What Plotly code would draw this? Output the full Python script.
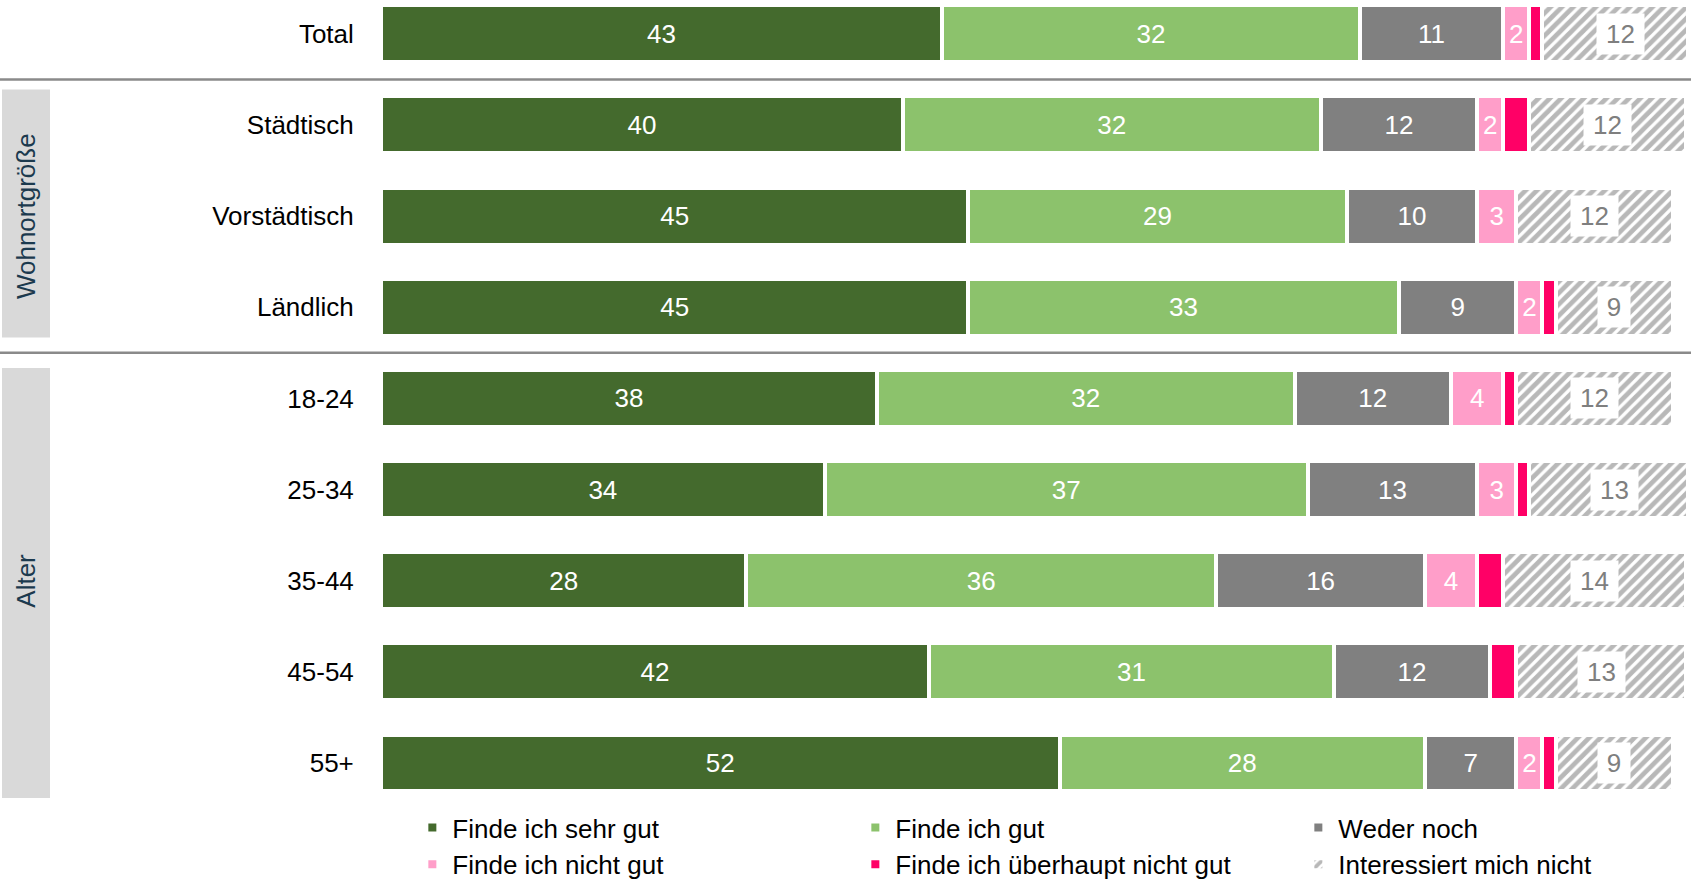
import plotly.graph_objects as go

# Survey rows (top to bottom) and answer shares in percent
categories = ["Total", "Städtisch", "Vorstädtisch", "Ländlich",
              "18-24", "25-34", "35-44", "45-54", "55+"]

series_names = ["Finde ich sehr gut", "Finde ich gut", "Weder noch",
                "Finde ich nicht gut", "Finde ich überhaupt nicht gut",
                "Interessiert mich nicht"]

sehr_gut = [43, 40, 45, 45, 38, 34, 28, 42, 52]
gut = [32, 32, 29, 33, 32, 37, 36, 31, 28]
weder_noch = [11, 12, 10, 9, 12, 13, 16, 12, 7]
nicht_gut = [2, 2, 3, 2, 4, 3, 4, 0, 2]
ueberhaupt_nicht_gut = [1, 2, 0, 1, 1, 1, 2, 2, 1]
kein_interesse = [12, 12, 12, 9, 12, 13, 14, 13, 9]

group_labels = ["Wohnortgröße", "Alter"]

series_values = [sehr_gut, gut, weder_noch, nicht_gut,
                 ueberhaupt_nicht_gut, kein_interesse]
colors = ["#446a2d", "#8cc26c", "#808080", "#ff9ec9", "#ff0066", "#ffffff"]
show_labels = [True, True, True, True, False, False]

FONT = "Liberation Sans, Arial, sans-serif"
BAR_W = 0.625

fig = go.Figure()

for name, vals, col, lab in zip(series_names, series_values, colors, show_labels):
    text = [str(v) if (lab and v) else "" for v in vals]
    marker = dict(color=col, line=dict(color="white", width=4))
    if name == "Interessiert mich nicht":
        marker["pattern"] = dict(shape="/", fgcolor="#727272", bgcolor="white",
                                 size=8, solidity=0.6)
    fig.add_trace(go.Bar(
        name=name, orientation="h", x=vals, y=categories, width=BAR_W,
        marker=marker, text=text, textposition="inside",
        insidetextanchor="middle", textangle=0, constraintext="none",
        textfont=dict(family=FONT, size=26, color="white"),
        hoverinfo="skip",
    ))

# Labels for the "not interested" segments on a white box
for i, cat in enumerate(categories):
    start = sum(s[i] for s in series_values[:-1])
    v = kein_interesse[i]
    fig.add_annotation(
        x=start + v / 2, y=cat, xref="x", yref="y", text=str(v),
        showarrow=False, bgcolor="white", borderpad=0,
        width=15 * len(str(v)) + 17, height=40,
        font=dict(family=FONT, size=26, color="#7f7f7f"),
    )

PLOT_L, PLOT_W = 381, 1305
PLOT_H = 800


def px_to_paper(px):
    return (px - PLOT_L) / PLOT_W


# Grey side panels for the row groups
for (y0, y1), label, yc in zip([(0.611, 3.333), (3.667, 8.384)], group_labels,
                               ["Vorstädtisch", "35-44"]):
    fig.add_shape(type="rect", xref="paper", yref="y",
                  x0=px_to_paper(2), x1=px_to_paper(50), y0=y0, y1=y1,
                  fillcolor="#d9d9d9", line=dict(width=0), layer="below")
    fig.add_annotation(x=px_to_paper(26), y=yc, xref="paper", yref="y",
                       xanchor="center", yanchor="middle",
                       text=label, textangle=-90, showarrow=False,
                       font=dict(family=FONT, size=26, color="#1c3a4e"))

# Separator lines between groups
for yl in [0.5, 3.5]:
    fig.add_shape(type="line", xref="paper", yref="y",
                  x0=px_to_paper(0), x1=px_to_paper(1691), y0=yl, y1=yl,
                  line=dict(color="#8a8a8a", width=2.5))

fig.update_layout(
    width=1691, height=880,
    margin=dict(l=PLOT_L, r=1691 - PLOT_L - PLOT_W, t=0, b=880 - PLOT_H,
                autoexpand=False),
    barmode="stack",
    paper_bgcolor="white", plot_bgcolor="white",
    font=dict(family=FONT, size=26, color="black"),
    showlegend=True,
    legend=dict(orientation="h", x=-0.0005, xanchor="left",
                y=-4 / PLOT_H, yanchor="top",
                entrywidth=366, entrywidthmode="pixels",
                indentation=32, traceorder="normal",
                font=dict(family=FONT, size=26, color="black")),
    xaxis=dict(range=[0, 100], visible=False, fixedrange=True),
    yaxis=dict(categoryorder="array", categoryarray=categories,
               range=[8.406, -0.371], showgrid=False, zeroline=False,
               showline=False, ticks="outside", ticklen=21,
               tickcolor="rgba(0,0,0,0)",
               tickfont=dict(family=FONT, size=26, color="black")),
)

fig.write_html("out.html")
